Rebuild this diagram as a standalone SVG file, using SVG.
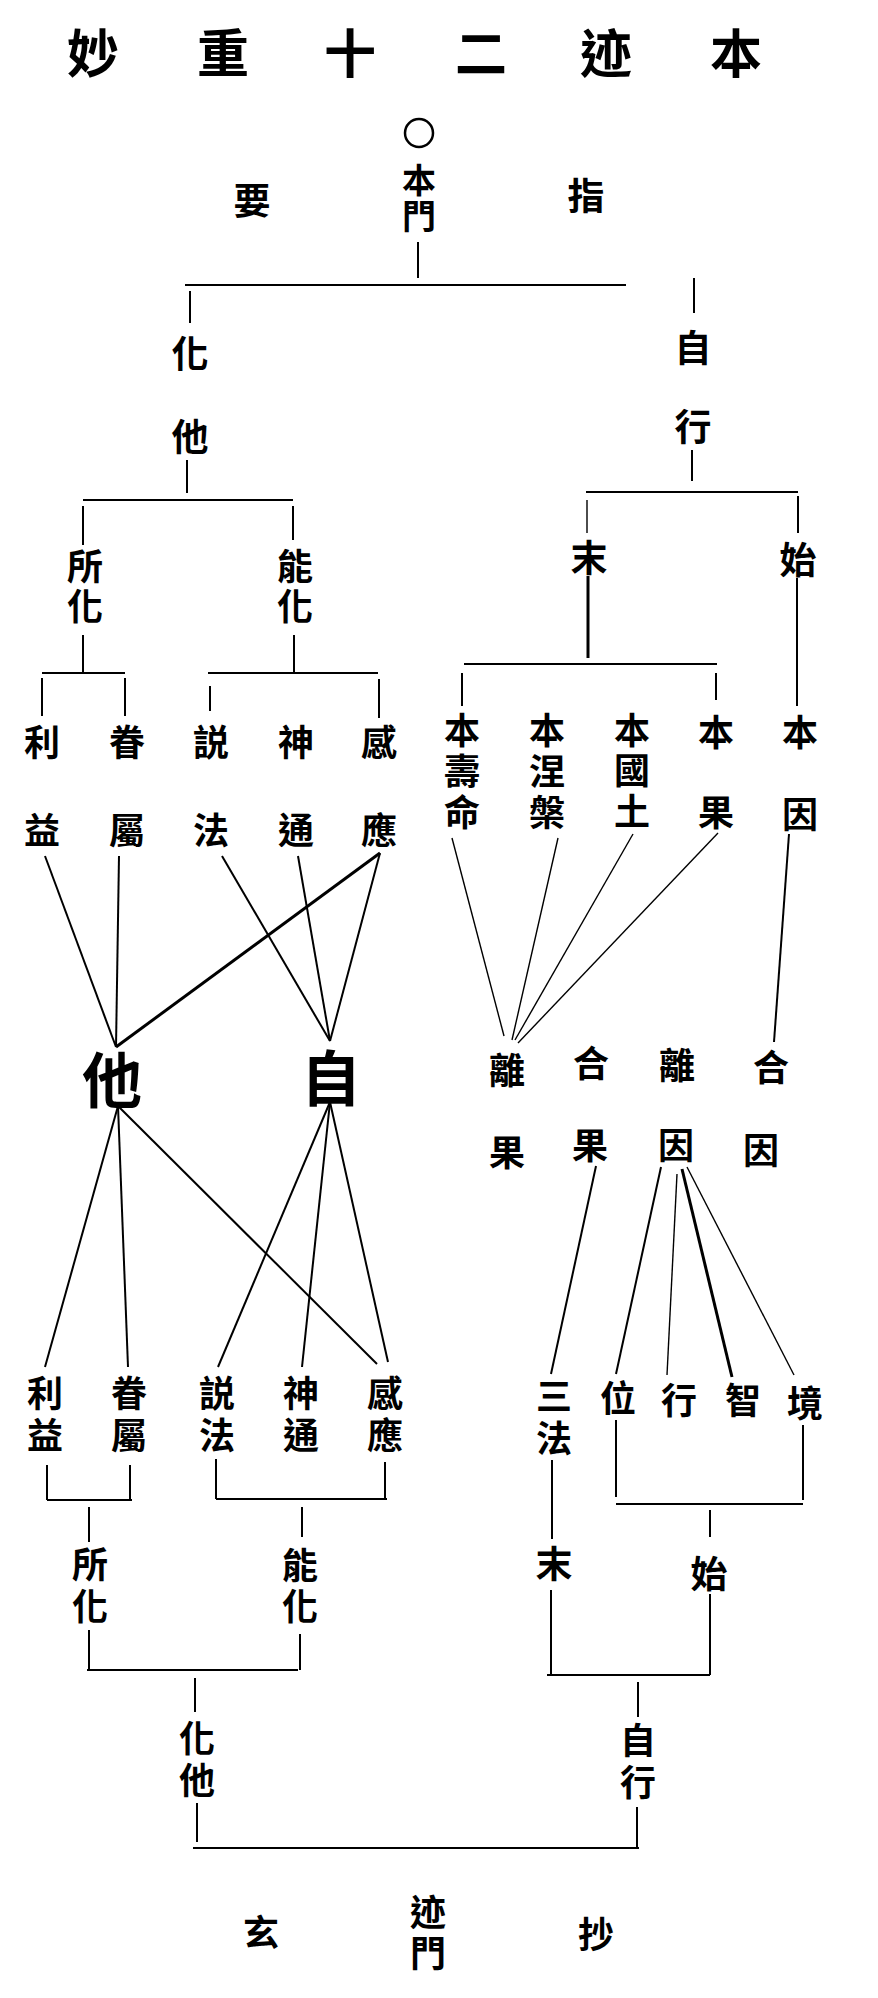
<svg xmlns="http://www.w3.org/2000/svg" width="878" height="1998" viewBox="0 0 878 1998">
<style>
.t{font-family:"Noto Sans CJK TC","Noto Sans CJK JP",sans-serif;font-weight:700;text-anchor:middle;dominant-baseline:central;fill:#000}
.v{writing-mode:vertical-rl;text-anchor:start}
.h{font-size:52px}.m{font-size:37px}.s{font-size:36px}.n{font-size:34px}.b{font-size:60px}
.c line{stroke:#000;stroke-width:2;fill:none}
.c line.k{stroke-width:3}
.c line.f{stroke-width:1.4}
</style>
<rect width="878" height="1998" fill="#fff"/>
<g id="title" class="t h">
<text x="93" y="50">妙</text><text x="223" y="50">重</text><text x="350" y="50">十</text><text x="481" y="50">二</text><text x="606" y="50">迹</text><text x="736" y="50">本</text>
</g>
<g id="honmon" class="t n">
<circle cx="419" cy="133" r="14" fill="none" stroke="#000" stroke-width="2.5"/>
<text class="v" x="419" y="163" letter-spacing="2">本門</text>
</g>
<g id="yo" class="t m"><text x="252" y="199">要</text></g>
<g id="shi" class="t m"><text x="586" y="194">指</text></g>
<g id="keta1" class="t m"><text x="190" y="352">化</text><text x="190" y="435">他</text></g>
<g id="jigyo1" class="t m"><text x="693" y="346">自</text><text x="693" y="425">行</text></g>
<g id="shoke1" class="t s"><text class="v" x="85" y="548" letter-spacing="4">所化</text></g>
<g id="noke1" class="t s"><text class="v" x="295" y="548" letter-spacing="4">能化</text></g>
<g id="matsu1" class="t m"><text x="589" y="556">末</text></g>
<g id="shi1" class="t m"><text x="798" y="558">始</text></g>
<g id="row1" class="t s">
<text x="42" y="740">利</text><text x="42" y="828">益</text>
<text x="127" y="740">眷</text><text x="127" y="828">屬</text>
<text x="211" y="740">説</text><text x="211" y="828">法</text>
<text x="296" y="740">神</text><text x="296" y="828">通</text>
<text x="379" y="740">感</text><text x="379" y="828">應</text>
</g>
<g id="hon" class="t s">
<text class="v" x="462" y="712" letter-spacing="5">本壽命</text>
<text class="v" x="547" y="712" letter-spacing="5">本涅槃</text>
<text class="v" x="632" y="712" letter-spacing="4.5">本國土</text>
<text x="716" y="730">本</text><text x="716" y="810">果</text>
<text x="800" y="730">本</text><text x="800" y="812">因</text>
</g>
<g id="ta" class="t b"><text x="112" y="1076">他</text></g>
<g id="ji" class="t b"><text x="331" y="1074">自</text></g>
<g id="rigo" class="t s">
<text x="507" y="1068">離</text><text x="507" y="1150">果</text>
<text x="591" y="1061">合</text><text x="590" y="1143">果</text>
<text x="677" y="1063">離</text><text x="676" y="1143">因</text>
<text x="771" y="1065">合</text><text x="761" y="1148">因</text>
</g>
<g id="row2" class="t s">
<text class="v" x="45" y="1375" letter-spacing="6">利益</text>
<text class="v" x="129" y="1375" letter-spacing="6">眷屬</text>
<text class="v" x="217" y="1375" letter-spacing="6">説法</text>
<text class="v" x="301" y="1375" letter-spacing="6">神通</text>
<text class="v" x="385" y="1375" letter-spacing="6">感應</text>
</g>
<g id="shoke2" class="t s"><text class="v" x="90" y="1546" letter-spacing="6">所化</text></g>
<g id="noke2" class="t s"><text class="v" x="300" y="1547" letter-spacing="5">能化</text></g>
<g id="keta2" class="t s"><text class="v" x="197" y="1720" letter-spacing="6">化他</text></g>
<g id="row3" class="t s">
<text class="v" x="554" y="1378" letter-spacing="6">三法</text>
<text x="618" y="1396">位</text><text x="679" y="1398">行</text><text x="743" y="1398">智</text><text x="805" y="1401">境</text>
</g>
<g id="matsu2" class="t m"><text x="554" y="1562">末</text></g>
<g id="shi2" class="t m"><text x="709" y="1572">始</text></g>
<g id="jigyo2" class="t s"><text class="v" x="638" y="1722" letter-spacing="6">自行</text></g>
<g id="shakumon" class="t s"><text x="261" y="1930">玄</text><text class="v" x="428" y="1894" letter-spacing="5">迹門</text><text x="596" y="1932">抄</text></g>
<g id="connectors" class="c">
<line x1="418" y1="242" x2="418" y2="278"/>
<line x1="185" y1="285" x2="626" y2="285"/>
<line x1="190" y1="291" x2="190" y2="323"/>
<line x1="694" y1="278" x2="694" y2="313"/>
<line x1="187" y1="460" x2="187" y2="493"/>
<line x1="83" y1="500" x2="293" y2="500"/>
<line x1="83" y1="506" x2="83" y2="545"/>
<line x1="293" y1="506" x2="293" y2="540"/>
<line x1="83" y1="635" x2="83" y2="673"/>
<line x1="42" y1="673" x2="125" y2="673"/>
<line x1="42" y1="678" x2="42" y2="716"/>
<line x1="125" y1="678" x2="125" y2="716"/>
<line x1="294" y1="635" x2="294" y2="673"/>
<line x1="208" y1="673" x2="378" y2="673"/>
<line x1="210" y1="686" x2="210" y2="711"/>
<line x1="379" y1="679" x2="379" y2="718"/>
<line x1="692" y1="450" x2="692" y2="481"/>
<line x1="586" y1="492" x2="798" y2="492"/>
<line class="f" x1="587" y1="500" x2="587" y2="533"/>
<line x1="798" y1="496" x2="798" y2="533"/>
<line class="k" x1="588" y1="576" x2="588" y2="658"/>
<line x1="464" y1="664" x2="717" y2="664"/>
<line x1="462" y1="673" x2="462" y2="706"/>
<line x1="716" y1="673" x2="716" y2="700"/>
<line x1="797" y1="578" x2="797" y2="706"/>
<line x1="45" y1="856" x2="116" y2="1047"/>
<line x1="119" y1="856" x2="116" y2="1047"/>
<line class="k" x1="380" y1="853" x2="116" y2="1047"/>
<line x1="222" y1="856" x2="330" y2="1041"/>
<line x1="298" y1="856" x2="330" y2="1041"/>
<line x1="380" y1="853" x2="330" y2="1041"/>
<line x1="118" y1="1106" x2="45" y2="1367"/>
<line x1="118" y1="1106" x2="128" y2="1367"/>
<line x1="118" y1="1106" x2="377" y2="1364"/>
<line x1="330" y1="1102" x2="218" y2="1367"/>
<line x1="330" y1="1102" x2="302" y2="1367"/>
<line x1="330" y1="1102" x2="388" y2="1362"/>
<line class="f" x1="452" y1="838" x2="504" y2="1036"/>
<line class="f" x1="558" y1="838" x2="512" y2="1040"/>
<line class="f" x1="633" y1="834" x2="515" y2="1040"/>
<line class="f" x1="718" y1="833" x2="518" y2="1043"/>
<line x1="789" y1="834" x2="774" y2="1042"/>
<line x1="596" y1="1166" x2="551" y2="1374"/>
<line x1="661" y1="1167" x2="616" y2="1374"/>
<line class="f" x1="677" y1="1174" x2="667" y2="1375"/>
<line class="k" x1="682" y1="1169" x2="732" y2="1377"/>
<line class="f" x1="687" y1="1167" x2="794" y2="1375"/>
<line x1="47" y1="1465" x2="47" y2="1500"/>
<line x1="130" y1="1465" x2="130" y2="1500"/>
<line x1="47" y1="1500" x2="132" y2="1500"/>
<line x1="89" y1="1507" x2="89" y2="1542"/>
<line x1="89" y1="1630" x2="89" y2="1670"/>
<line x1="216" y1="1459" x2="216" y2="1499"/>
<line x1="385" y1="1462" x2="385" y2="1499"/>
<line x1="216" y1="1499" x2="387" y2="1499"/>
<line x1="302" y1="1507" x2="302" y2="1537"/>
<line x1="300" y1="1634" x2="300" y2="1670"/>
<line x1="87" y1="1670" x2="298" y2="1670"/>
<line x1="195" y1="1678" x2="195" y2="1712"/>
<line x1="197" y1="1803" x2="197" y2="1842"/>
<line x1="193" y1="1848" x2="639" y2="1848"/>
<line x1="552" y1="1460" x2="552" y2="1539"/>
<line x1="551" y1="1590" x2="551" y2="1675"/>
<line x1="616" y1="1420" x2="616" y2="1497"/>
<line x1="803" y1="1425" x2="803" y2="1500"/>
<line x1="616" y1="1504" x2="803" y2="1504"/>
<line x1="710" y1="1510" x2="710" y2="1537"/>
<line x1="710" y1="1594" x2="710" y2="1675"/>
<line x1="547" y1="1675" x2="710" y2="1675"/>
<line x1="638" y1="1682" x2="638" y2="1717"/>
<line x1="637" y1="1807" x2="637" y2="1848"/>
</g>
</svg>
